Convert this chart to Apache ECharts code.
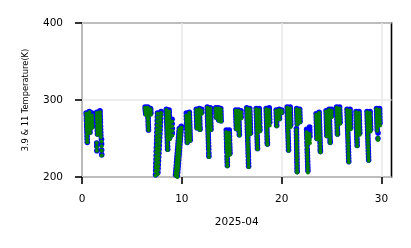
<!DOCTYPE html>
<html>
<head>
<meta charset="utf-8">
<script src="https://cdn.jsdelivr.net/npm/echarts@6/dist/echarts.min.js"></script>
<style>html,body{margin:0;padding:0;background:#fff}#c{width:411px;height:248px}</style>
</head>
<body>
<div id="c"></div>
<script>
// Each entry: [day of April, 11 µm temperature (K), 3.9 µm temperature (K)]
const pass00 = [[0.42,282,283],[0.44,278,280],[0.45,275,276],[0.46,271,273],[0.47,267,268],[0.48,264,265],[0.49,260,261],[0.50,256,257],[0.51,252,253],[0.52,248,249],[0.53,245,245],
[0.73,284,285],[0.74,280,282],[0.75,276,278],[0.76,272,274],[0.77,268,270],[0.78,265,266],[0.79,261,262],[0.80,257,258],
[1.00,280,283],[1.01,276,279],[1.02,272,275],[1.03,268,271],[1.04,264,266]];
const pass01 = [[1.48,283,284],[1.49,279,280],[1.50,275,276],[1.51,271,272],[1.52,267,268],[1.53,263,264],[1.54,259,260],[1.55,255,256],
[1.80,284,286],[1.81,280,283],[1.82,276,279],[1.83,272,275],[1.84,268,271],[1.85,264,266],[1.86,260,262],[1.87,256,258],[1.88,252,254],
[1.47,244,244],[1.48,239,240],[1.49,234,234],
[1.95,246,249],[1.96,240,243],[1.97,234,235],[1.98,228,229]];
const pass06 = [[6.32,290,291],[6.34,287,288],[6.36,284,285],[6.38,281,282],
[6.58,290,291],[6.59,286,287],[6.60,282,283],[6.61,278,279],[6.62,275,276],[6.63,271,272],[6.64,268,268],[6.65,264,265],[6.66,261,261],
[6.86,288,289],[6.88,285,287],[6.90,281,283]];
const pass07 = [[7.56,282,283],[7.55,277,278],[7.54,272,273],[7.53,267,268],[7.52,262,263],[7.50,257,258],[7.49,252,253],[7.48,247,248],[7.47,242,243],[7.45,237,238],[7.44,232,233],[7.43,227,228],[7.42,222,223],[7.40,217,218],[7.39,212,213],[7.38,207,208],[7.37,202,203],[7.36,198,199],
[7.92,283,285],[7.90,279,281],[7.88,274,276],[7.86,269,271],[7.84,264,266],[7.82,259,261],[7.80,254,256],[7.78,249,251],[7.76,244,246],[7.74,239,241],[7.72,234,236],[7.70,229,231],[7.68,224,226],[7.66,219,221],[7.64,214,216],[7.62,209,211],[7.60,204,206]];
const pass08 = [[8.45,287,288],[8.46,283,284],[8.47,279,280],[8.48,275,276],[8.49,271,272],[8.50,267,268],[8.51,263,264],[8.52,259,260],[8.53,255,256],[8.54,251,252],[8.55,247,248],[8.56,243,244],[8.57,239,240],[8.58,235,236],
[8.72,285,287],[8.73,281,284],[8.74,277,280],[8.75,273,276],[8.76,269,272],[8.77,265,268],[8.78,261,264],[8.79,257,260],[8.80,253,256],[8.81,249,252],
[9.02,272,275],[9.03,266,269],[9.04,260,263],[9.05,254,257]];
const pass09 = [[9.95,264,266],[9.93,260,262],[9.90,256,258],[9.88,252,254],[9.85,248,250],[9.83,244,246],[9.80,240,242],[9.78,236,238],[9.75,232,234],[9.73,228,230],[9.70,224,226],[9.68,220,222],[9.65,216,218],[9.63,212,214],[9.60,208,210],[9.58,204,206],[9.55,200,202],
[9.75,262,263],[9.72,258,259],[9.70,254,255],[9.67,250,251],[9.65,246,247],[9.62,242,243],[9.60,238,239],[9.57,234,235],[9.55,230,231],[9.52,226,227],[9.50,222,223],[9.47,218,219],[9.45,214,215],[9.42,210,211],[9.40,206,207],[9.37,202,203]];
const pass10 = [[10.45,280,283],[10.46,276,279],[10.47,272,275],[10.48,268,270],[10.49,264,266],[10.50,260,262],[10.51,256,257],[10.52,252,253],[10.53,248,249],[10.54,244,245],
[10.75,283,284],[10.76,279,280],[10.77,275,276],[10.78,271,272],[10.79,267,268],[10.80,263,264],[10.81,259,260],[10.82,255,256],[10.83,251,252],[10.84,247,248]];
const pass11 = [[11.45,287,288],[11.46,283,284],[11.47,279,280],[11.48,275,276],[11.49,271,272],[11.50,267,268],[11.51,263,264],
[11.75,288,289],[11.76,284,285],[11.77,280,281],[11.78,276,277],[11.79,272,273],[11.80,268,269],[11.81,264,265],[11.82,261,262],
[11.98,286,288],[11.99,282,284]];
const pass12 = [[12.55,290,291],[12.56,286,287],[12.57,282,283],[12.58,278,279],[12.59,274,275],[12.60,270,271],[12.61,266,267],[12.62,262,264],[12.63,258,260],[12.64,254,256],[12.65,250,252],[12.66,246,248],[12.67,242,244],[12.68,238,240],[12.69,234,236],[12.70,230,231],[12.71,226,227],
[12.85,289,290],[12.86,285,286],[12.87,281,282],[12.88,277,278],[12.89,273,274],[12.90,269,270],[12.91,265,266],[12.92,261,262]];
const pass13 = [[13.40,289,290],[13.41,285,286],[13.42,281,282],[13.43,277,278],
[13.65,289,290],[13.66,285,286],[13.67,281,282],[13.68,277,278],[13.69,273,274],
[13.90,288,289],[13.91,284,285],[13.92,280,281],[13.93,276,277],[13.94,272,273]];
const pass14 = [[14.45,258,261],[14.46,254,257],[14.47,250,253],[14.48,246,249],[14.49,242,244],[14.50,238,240],[14.51,234,236],[14.52,230,232],[14.53,226,227],[14.54,222,223],[14.55,218,219],[14.56,214,215],
[14.75,257,261],[14.76,253,257],[14.77,249,253],[14.78,245,248],[14.79,241,243],[14.80,237,239],[14.81,233,235],[14.82,229,231]];
const pass15 = [[15.40,286,287],[15.41,282,283],[15.42,278,279],[15.43,274,275],[15.44,270,271],[15.45,266,267],[15.46,262,263],
[15.68,286,287],[15.69,282,283],[15.70,278,279],[15.71,274,275],[15.72,270,271],[15.73,266,267],[15.74,262,263],[15.75,258,259],[15.76,254,255],
[15.92,284,286],[15.93,280,282],[15.94,276,278]];
const pass16 = [[16.50,289,290],[16.51,285,286],[16.52,281,282],[16.53,277,278],[16.54,273,274],[16.55,269,270],[16.56,265,266],[16.57,261,262],[16.58,257,258],[16.59,253,254],[16.60,249,251],[16.61,245,247],[16.62,241,243],[16.63,237,239],[16.64,233,235],[16.65,229,231],[16.66,225,227],[16.67,221,222],[16.68,217,218],[16.69,213,214],
[16.80,288,289],[16.81,284,285],[16.82,280,281],[16.83,276,277],[16.84,272,273],[16.85,268,269],[16.86,264,265],[16.87,260,261],[16.88,256,257]];
const pass17 = [[17.45,288,289],[17.46,284,285],[17.47,280,281],[17.48,276,277],[17.49,272,273],[17.50,268,269],[17.51,264,265],[17.52,260,261],[17.53,256,257],[17.54,252,253],[17.55,248,249],[17.56,244,245],[17.57,240,241],[17.58,236,237],
[17.75,287,289],[17.76,283,286],[17.77,279,282],[17.78,275,278],[17.79,271,274],[17.80,267,270],[17.81,263,265],[17.82,259,261]];
const pass18 = [[18.45,288,289],[18.46,284,285],[18.47,280,281],[18.48,276,277],[18.49,272,273],[18.50,268,269],[18.51,264,265],[18.52,260,261],[18.53,256,257],[18.54,252,253],[18.55,248,249],[18.56,244,245],[18.57,242,243],
[18.75,287,290],[18.76,283,287],[18.77,279,283],[18.78,275,279],[18.79,271,275],[18.80,267,271]];
const pass19 = [[19.45,286,287],[19.46,282,283],[19.47,278,279],[19.48,274,275],[19.49,270,271],[19.50,266,267],
[19.75,287,288],[19.76,283,284],[19.77,279,280],[19.78,275,276],
[20.00,286,287],[20.01,283,284]];
const pass20 = [[20.55,290,291],[20.56,286,287],[20.57,282,283],[20.58,278,279],[20.59,274,275],[20.60,270,271],[20.61,266,267],[20.62,262,263],[20.63,258,259],[20.64,254,255],[20.65,250,251],[20.66,246,247],[20.67,242,243],[20.68,238,239],[20.69,234,235],
[20.85,289,291],[20.86,285,288],[20.87,281,284],[20.88,277,280],[20.89,273,276],[20.90,269,272],[20.91,265,268]];
const pass21 = [[21.50,288,289],[21.51,284,285],[21.52,280,281],[21.53,276,277],[21.54,272,273],[21.55,268,269],
[21.48,261,263],[21.48,257,259],[21.49,253,255],[21.49,249,251],[21.50,245,247],[21.50,241,243],[21.51,237,239],[21.51,233,235],[21.52,229,231],[21.52,225,227],[21.53,221,223],[21.53,217,219],[21.54,213,215],[21.54,209,211],[21.55,206,207],
[21.80,287,288],[21.81,283,284],[21.82,279,280],[21.83,275,276],[21.84,271,272]];
const pass22 = [[22.50,258,262],[22.51,254,258],[22.52,250,254],[22.53,246,250],[22.54,242,245],[22.55,238,241],[22.56,234,236],[22.57,230,232],[22.58,226,228],[22.59,222,224],[22.60,218,220],[22.61,214,216],[22.62,210,212],[22.63,206,208],
[22.80,256,265],[22.81,252,261],[22.82,248,257],[22.83,244,253]];
const pass23 = [[23.45,281,282],[23.46,277,278],[23.47,273,274],[23.48,269,270],[23.49,265,266],[23.50,261,262],[23.51,257,258],[23.52,253,254],[23.53,249,250],
[23.75,283,284],[23.76,279,280],[23.77,275,276],[23.78,271,272],[23.79,267,268],[23.80,263,264],[23.81,259,260],[23.82,255,256],[23.83,251,252],[23.84,247,248],[23.85,243,244],[23.86,239,240],[23.87,235,236],[23.88,232,233]];
const pass24 = [[24.45,285,286],[24.46,281,282],[24.47,277,278],[24.48,273,274],[24.49,269,270],[24.50,265,266],[24.51,261,262],[24.52,257,258],[24.53,253,254],
[24.75,287,288],[24.76,283,284],[24.77,279,280],[24.78,275,276],[24.79,271,272],[24.80,267,268],[24.81,263,264],[24.82,259,260],[24.83,255,256],[24.84,251,252],[24.85,247,248],[24.86,244,245],
[25.00,286,288],[25.01,282,284],[25.02,278,280]];
const pass25 = [[25.50,290,291],[25.51,286,287],[25.52,282,283],[25.53,278,279],[25.54,274,275],[25.55,270,271],[25.56,266,267],[25.57,262,263],[25.58,258,259],[25.59,255,256],
[25.80,289,291],[25.81,285,287],[25.82,281,283],[25.83,277,279],[25.84,273,275],[25.85,269,271]];
const pass26 = [[26.55,287,288],[26.56,283,284],[26.57,279,280],[26.58,275,276],[26.59,271,272],[26.60,267,268],[26.61,263,264],[26.62,259,260],[26.63,255,256],[26.64,251,252],[26.65,247,248],[26.66,243,244],[26.67,239,240],[26.68,235,236],[26.69,231,232],[26.70,227,228],[26.71,223,224],[26.72,219,220],
[26.85,286,288],[26.86,282,284],[26.87,278,280],[26.88,274,276],[26.89,270,272],[26.90,266,268],[26.91,262,264]];
const pass27 = [[27.45,284,285],[27.46,280,281],[27.47,276,277],[27.48,272,273],[27.49,268,269],[27.50,264,265],[27.51,260,261],[27.52,256,257],[27.53,252,253],[27.54,248,249],[27.55,244,245],[27.56,240,241],
[27.75,283,285],[27.76,279,281],[27.77,275,277],[27.78,271,273],[27.79,267,269],[27.80,263,265],[27.81,259,261],[27.82,255,257]];
const pass28 = [[28.55,284,285],[28.56,280,281],[28.57,276,277],[28.58,272,273],[28.59,268,269],[28.60,264,265],[28.61,260,261],[28.62,256,257],[28.63,252,254],[28.64,248,250],[28.65,244,246],[28.66,240,242],[28.67,236,238],[28.68,232,234],[28.69,228,230],[28.70,224,226],[28.71,221,222],
[28.85,283,285],[28.86,279,282],[28.87,275,278],[28.88,271,274],[28.89,267,270],[28.90,263,266],[28.91,259,262]];
const pass29 = [[29.50,288,289],[29.51,284,285],[29.52,280,281],[29.53,276,277],[29.54,272,273],[29.55,268,269],[29.56,264,265],[29.57,260,261],
[29.80,287,289],[29.81,283,286],[29.82,279,282],[29.83,275,278],[29.84,271,274],[29.85,267,270],
[29.65,251,257],[29.64,248,250]];

const passes = [pass00,pass01,pass06,pass07,pass08,pass09,pass10,pass11,pass12,pass13,pass14,pass15,pass16,pass17,pass18,pass19,pass20,pass21,pass22,pass23,pass24,pass25,pass26,pass27,pass28,pass29];
const xTicks = [0, 10, 20, 30];
const yTicks = [200, 300, 400];
const xName = '2025-04';
const yName = '3.9 & 11 Temperature(K)';

const green11 = [], blue39 = [];
passes.forEach(p => p.forEach(r => { green11.push([r[0], r[1]]); blue39.push([r[0], r[2]]); }));

const FONT = 'DejaVu Sans';
const chart = echarts.init(document.getElementById('c'), null, {renderer: 'canvas'});
chart.setOption({
  animation: false,
  backgroundColor: '#fff',
  grid: {left: 82, right: 19.5, top: 23, bottom: 71, show: true, borderColor: '#000', borderWidth: 1.6, backgroundColor: 'transparent'},
  xAxis: {
    type: 'value', min: 0, max: 31, interval: 10,
    name: xName, nameLocation: 'middle', nameGap: 40,
    nameTextStyle: {fontFamily: FONT, fontSize: 10.5, color: '#000'},
    axisLine: {show: false},
    axisTick: {show: true, length: 7, inside: false, customValues: xTicks, lineStyle: {color: '#000', width: 1.6}},
    axisLabel: {customValues: xTicks, margin: 17, fontFamily: FONT, fontSize: 10.5, color: '#000'},
    splitLine: {show: true, lineStyle: {color: '#e8e8e8', width: 1.5}}
  },
  yAxis: {
    type: 'value', min: 200, max: 400, interval: 100,
    name: yName, nameLocation: 'middle', nameGap: 52.5, nameRotate: 90,
    nameTextStyle: {fontFamily: FONT, fontSize: 8.3, color: '#000'},
    axisLine: {show: false},
    axisTick: {show: true, length: 7, customValues: yTicks, lineStyle: {color: '#000', width: 1.6}},
    axisLabel: {customValues: yTicks, margin: 19, fontFamily: FONT, fontSize: 10.5, color: '#000'},
    splitLine: {show: true, lineStyle: {color: '#e8e8e8', width: 1.5}}
  },
  series: [
    {name: '3.9', type: 'scatter', data: blue39, symbol: 'circle', symbolSize: 5.6, itemStyle: {color: '#0000ff', opacity: 1}, clip: true, z: 2},
    {name: '11', type: 'scatter', data: green11, symbol: 'circle', symbolSize: 4, itemStyle: {color: '#008000', opacity: 1}, clip: true, z: 3}
  ]
});
</script>
</body>
</html>
